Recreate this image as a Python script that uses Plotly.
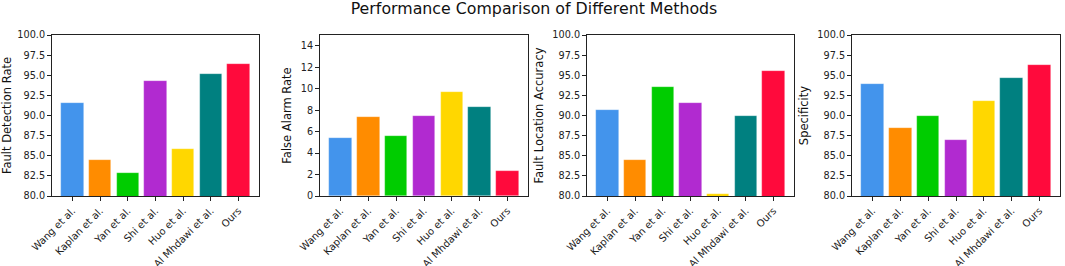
import plotly.graph_objects as go

methods = ["Wang et al.", "Kaplan et al.", "Yan et al.", "Shi et al.", "Huo et al.", "Al Mhdawi et al.", "Ours"]
colors = ["#4394EC", "#FF8C00", "#00CC00", "#B12AD0", "#FFD700", "#008080", "#FF0A3C"]

fault_detection_rate = [91.5, 84.5, 82.9, 94.3, 85.8, 95.1, 96.4]
false_alarm_rate = [5.45, 7.33, 5.58, 7.45, 9.65, 8.3, 2.34]
fault_location_accuracy = [90.7, 84.5, 93.5, 91.5, 80.2, 89.9, 95.5]
specificity = [93.9, 88.4, 90.0, 86.9, 91.8, 94.6, 96.3]

panels = [
    ("Fault Detection Rate", fault_detection_rate, [80, 100], 2.5, ".1f"),
    ("False Alarm Rate", false_alarm_rate, [0, 15], 2, "d"),
    ("Fault Location Accuracy", fault_location_accuracy, [80, 100], 2.5, ".1f"),
    ("Specificity", specificity, [80, 100], 2.5, ".1f"),
]

W, H = 1065, 266
x_px = [(52, 259), (320, 528), (587, 794), (852, 1060)]
y_top, y_bot = 35, 196

fig = go.Figure()
font = "DejaVu Sans, Arial, sans-serif"
layout = {}
for i, (name, vals, yr, dt, fmt) in enumerate(panels):
    n = "" if i == 0 else str(i + 1)
    fig.add_trace(go.Bar(
        x=methods, y=vals, width=0.8,
        marker=dict(color=colors, line=dict(width=0.6, color="rgba(255,255,255,0.45)")),
        xaxis="x" + n, yaxis="y" + n, showlegend=False,
    ))
    base = yr[0]
    layout["xaxis" + n] = dict(
        domain=[x_px[i][0] / W, x_px[i][1] / W],
        anchor="y" + n,
        range=[-0.74, 6.74],
        tickangle=-45,
        automargin=False,
        showline=True, mirror=True, linecolor="#222", linewidth=1,
        ticks="outside", ticklen=4, tickcolor="#222",
        tickfont=dict(size=10, color="#222"),
        showgrid=False, zeroline=False,
    )
    layout["yaxis" + n] = dict(
        domain=[1 - y_bot / H, 1 - y_top / H],
        anchor="x" + n,
        range=yr,
        dtick=dt, tick0=base,
        tickformat=fmt,
        automargin=False,
        showline=True, mirror=True, linecolor="#222", linewidth=1,
        ticks="outside", ticklen=4, tickcolor="#222",
        tickfont=dict(size=9.7, color="#222"),
        showgrid=False, zeroline=False,
        title=dict(text=name, font=dict(size=11.5, color="#111"), standoff=6),
    )

fig.update_layout(
    **layout,
    width=W, height=H,
    margin=dict(l=0, r=0, t=0, b=0, autoexpand=False),
    paper_bgcolor="white", plot_bgcolor="white",
    font=dict(family=font, color="#111"),
    bargap=0,
    title=dict(text="Performance Comparison of Different Methods",
               x=534 / W, xanchor="center", y=1 - 8.5 / H, yanchor="middle",
               yref="container", automargin=False,
               font=dict(size=15.8, color="#111")),
)

fig.write_html("out.html", config={"displayModeBar": False},
               post_script="document.body.style.margin='0';document.body.style.overflow='hidden';")
